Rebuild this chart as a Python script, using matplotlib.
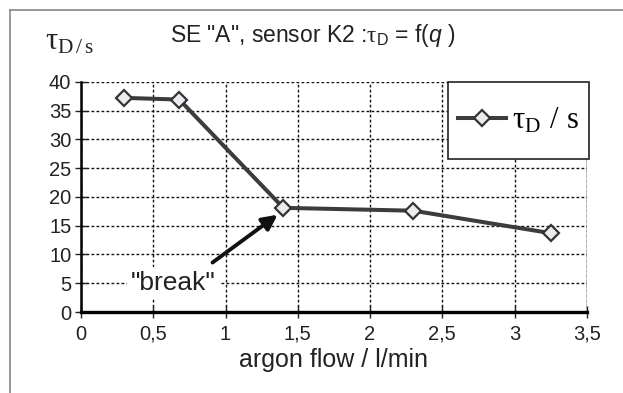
import matplotlib.pyplot as plt
from matplotlib.lines import Line2D
from matplotlib.patches import Rectangle

plt.rcParams['font.family'] = ['Liberation Sans', 'DejaVu Sans']
plt.rcParams['mathtext.fontset'] = 'custom'
plt.rcParams['mathtext.rm'] = 'Liberation Serif'
plt.rcParams['mathtext.it'] = 'Liberation Sans:italic'
plt.rcParams['mathtext.sf'] = 'Liberation Sans'

# argon flow (l/min) and time constant tau_D (s)
flow = [0.3, 0.68, 1.4, 2.3, 3.25]
tau_d = [37.2, 36.9, 18.1, 17.6, 13.7]

xticks = [0, 0.5, 1, 1.5, 2, 2.5, 3, 3.5]
xticklabels = ['0', '0,5', '1', '1,5', '2', '2,5', '3', '3,5']
yticks = [0, 5, 10, 15, 20, 25, 30, 35, 40]

fig = plt.figure(figsize=(6.23, 3.93), dpi=100)
ax = fig.add_axes([0.130, 0.206, 0.812, 0.586])

ax.plot(flow, tau_d, color='#3c3c3c', lw=2.9, marker='D', markersize=8.5,
        markerfacecolor='#eaecef', markeredgecolor='#333333', markeredgewidth=1.6,
        label=r'$\mathrm{\tau_{D}\ /\ s}$', zorder=5)

ax.set_xlim(0, 3.5)
ax.set_ylim(0, 40)
ax.set_xticks(xticks)
ax.set_xticklabels(xticklabels)
ax.set_yticks(yticks)
ax.tick_params(axis='both', labelsize=14.5, direction='inout', length=8,
               width=1, colors='#222222')
ax.tick_params(axis='x', pad=5)
ax.tick_params(axis='y', pad=3)
ax.grid(True, color='#111111', lw=1, linestyle=(0, (2, 1.6)))

for side in ['top', 'right']:
    ax.spines[side].set_visible(False)
ax.spines['left'].set_linewidth(1.8)
ax.spines['bottom'].set_linewidth(2.4)
ax.axvline(3.5, color='#222222', lw=1)

ax.set_xlabel('argon flow / l/min', fontsize=18, labelpad=3, color='#222222')

# legend box
ax.add_patch(Rectangle((0.725, 0.664), 0.279, 0.334, transform=ax.transAxes,
                       fc='white', ec='#222222', lw=1.2, zorder=8, clip_on=False))
leg = ax.legend(loc='center', bbox_to_anchor=(0.725, 0.664, 0.279, 0.334),
                fontsize=22, frameon=False, handlelength=1.55,
                handletextpad=0.2, borderaxespad=0, borderpad=0)
leg.set_zorder(10)

ax.text(0.64, 5.1, '"break"', fontsize=19, ha='center', va='center',
        color='#222222', zorder=6,
        bbox=dict(boxstyle='square,pad=0.15', fc='white', ec='none'))
ax.annotate('', xy=(1.36, 16.9), xytext=(0.91, 8.6),
            arrowprops=dict(arrowstyle='-|>,head_length=0.9,head_width=0.45',
                            color='#111111', lw=2.8, shrinkA=0, shrinkB=0),
            zorder=7)

fig.text(0.502, 0.91, r'SE "A", sensor K2 :$\mathrm{\tau}_{\mathsf{D}}$ = f($q$ )',
         fontsize=16.5, ha='center', va='center', color='#222222')
fig.text(0.072, 0.895, r'$\mathrm{\tau_{D\,/\,s}}$', fontsize=22,
         ha='left', va='center', color='#222222')

# outer chart frame
fig.add_artist(Line2D([10 / 623, 10 / 623], [0, 1 - 10 / 393],
                      transform=fig.transFigure, color='#888888', lw=1.2))
fig.add_artist(Line2D([10 / 623, 1], [1 - 10 / 393, 1 - 10 / 393],
                      transform=fig.transFigure, color='#888888', lw=1.2))

fig.savefig('out.png', dpi=100)
